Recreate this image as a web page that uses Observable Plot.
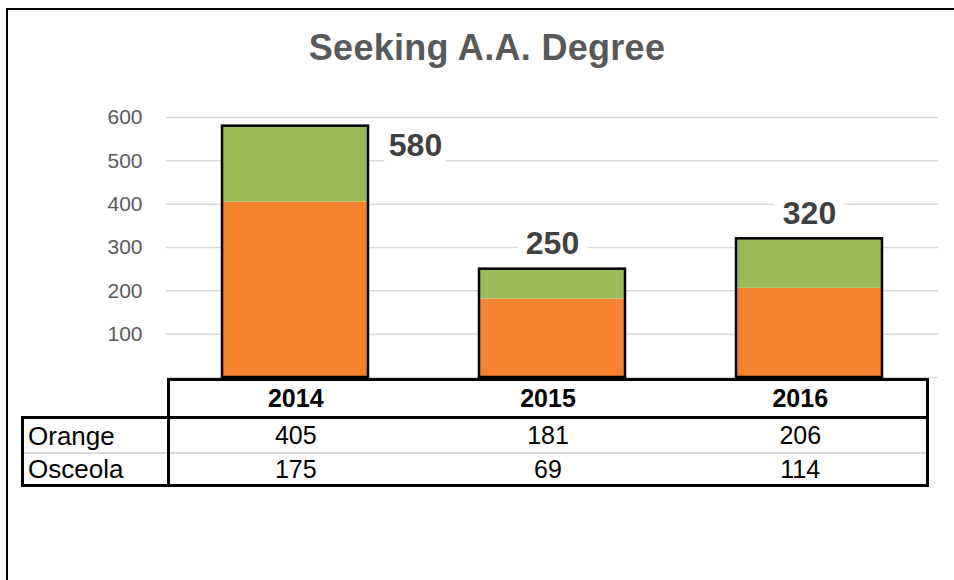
<!DOCTYPE html>
<html>
<head>
<meta charset="utf-8">
<script src="https://cdn.jsdelivr.net/npm/d3@7"></script>
<script src="https://cdn.jsdelivr.net/npm/@observablehq/plot@0.6"></script>
<style>
body{margin:0;background:#fff;font-family:"Liberation Sans",Arial,sans-serif;}
#wrap{position:relative;width:954px;height:580px;overflow:hidden;background:#fff;}
#frame{position:absolute;left:6px;top:8px;width:1000px;height:1000px;border-left:2px solid #000;border-top:2px solid #000;}
#title{position:absolute;left:0;width:974px;top:30px;text-align:center;font-weight:bold;font-size:36px;line-height:36px;letter-spacing:0.3px;color:#595959;}
#chart{position:absolute;left:0;top:0;}
#tbl{position:absolute;left:21px;top:378px;border-collapse:collapse;table-layout:fixed;width:905px;font-size:25px;color:#000;background:#fff;}
#tbl td{padding:0;text-align:center;vertical-align:middle;line-height:1;white-space:nowrap;}
#tbl tr.h td{height:35px;font-weight:bold;border-top:3px solid #000;}
#tbl tr.h td.blank{border-top:none;}
#tbl tr.h td:nth-child(2){border-left:3px solid #000;}
#tbl tr.h td:last-child{border-right:3px solid #000;}
#tbl tr.r1 td{height:33px;border-top:3px solid #000;}
#tbl tr.r2 td{height:30px;border-top:2px solid #d9d9d9;border-bottom:3px solid #000;}
#tbl tr.r1 td:first-child,#tbl tr.r2 td:first-child{border-left:3px solid #000;text-align:left;padding-left:4px;font-size:26px;}
#tbl tr.r1 td:nth-child(2),#tbl tr.r2 td:nth-child(2){border-left:3px solid #000;}
#tbl tr.r1 td:last-child,#tbl tr.r2 td:last-child{border-right:3px solid #000;}
</style>
</head>
<body>
<div id="wrap">
  <div id="frame"></div>
  <div id="chart"></div>
  <div id="title">Seeking A.A. Degree</div>
</div>
<script>
const title = "Seeking A.A. Degree";
const years = ["2014", "2015", "2016"];
const seriesNames = ["Orange", "Osceola"];
const orangeValues = [405, 181, 206];
const osceolaValues = [175, 69, 114];
const totals = [580, 250, 320];
const yTicks = [100, 200, 300, 400, 500, 600];
const gridTicks = [0, 100, 200, 300, 400, 500, 600];
const seriesColors = ["#F4822E", "#9BBB59"];

const rows = years.flatMap((year, i) => [
  {year, series: seriesNames[0], value: orangeValues[i]},
  {year, series: seriesNames[1], value: osceolaValues[i]}
]);
const totalRows = years.map((year, i) => ({year, total: totals[i]}));

const labelStyle = {
  x: "year", y: "total", text: d => String(d.total),
  lineAnchor: "bottom", textAnchor: "middle",
  fontSize: 32, fontWeight: "bold", fill: "#404040",
  stroke: "white", strokeWidth: 20, strokeLinejoin: "round", paintOrder: "stroke"
};

const chart = Plot.plot({
  width: 954,
  height: 400,
  marginLeft: 166,
  marginRight: 16,
  marginTop: 117,
  marginBottom: 23,
  style: {fontFamily: "'Liberation Sans', Arial, sans-serif", color: "#595959", background: "transparent"},
  x: {domain: years, paddingInner: 0.43, paddingOuter: 0.215, axis: null},
  y: {domain: [0, 600], axis: null},
  color: {domain: seriesNames, range: seriesColors},
  marks: [
    Plot.ruleY(gridTicks, {stroke: "#d9d9d9", strokeWidth: 1.5}),
    Plot.axisY(yTicks, {tickSize: 0, tickPadding: 24, fontSize: 21, label: null, fill: "#595959"}),
    Plot.barY(rows, {x: "year", y: "value", fill: "series"}),
    Plot.barY(totalRows, {x: "year", y: "total", fill: "none", stroke: "black", strokeWidth: 2.5}),
    Plot.text(totalRows.filter(d => d.year === years[0]), {...labelStyle, dx: 120, dy: 30}),
    Plot.text(totalRows.filter(d => d.year !== years[0]), {...labelStyle, dy: -15})
  ]
});
document.getElementById("chart").appendChild(chart);

// data table below the chart
const tbl = document.createElement("table");
tbl.id = "tbl";
const cg = document.createElement("colgroup");
[146, 253, 253, 253].forEach(w => { const c = document.createElement("col"); c.style.width = w + "px"; cg.appendChild(c); });
tbl.appendChild(cg);
const hr = document.createElement("tr"); hr.className = "h";
const blank = document.createElement("td"); blank.className = "blank"; hr.appendChild(blank);
years.forEach(y => { const td = document.createElement("td"); td.textContent = y; hr.appendChild(td); });
tbl.appendChild(hr);
[[seriesNames[0], orangeValues, "r1"], [seriesNames[1], osceolaValues, "r2"]].forEach(([name, vals, cls]) => {
  const tr = document.createElement("tr"); tr.className = cls;
  const lab = document.createElement("td"); lab.textContent = name; tr.appendChild(lab);
  vals.forEach(v => { const td = document.createElement("td"); td.textContent = String(v); tr.appendChild(td); });
  tbl.appendChild(tr);
});
document.getElementById("wrap").appendChild(tbl);
</script>
</body>
</html>
